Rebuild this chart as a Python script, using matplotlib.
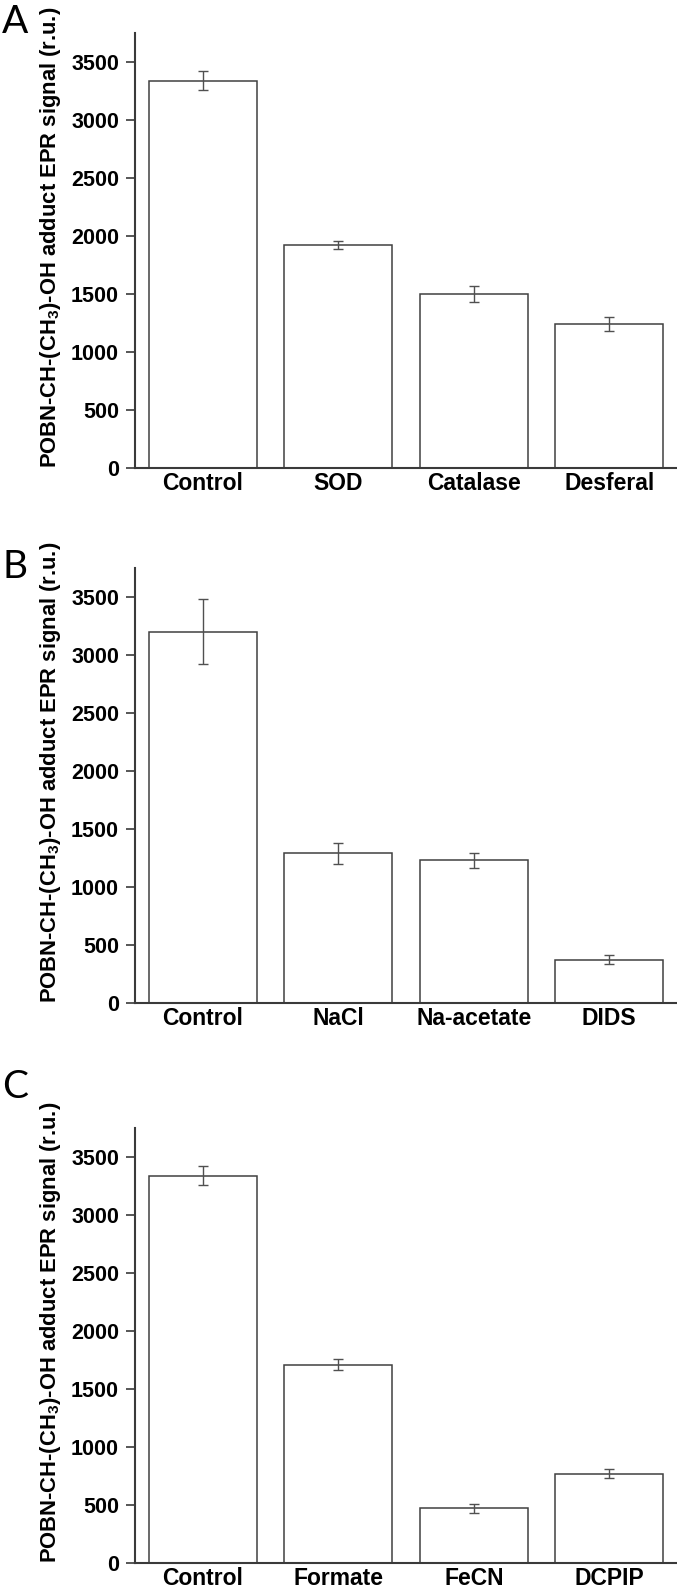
import matplotlib
matplotlib.use("Agg")
import matplotlib.pyplot as plt
import numpy as np

plt.rcParams['font.family'] = ['Liberation Sans', 'DejaVu Sans']
plt.rcParams['mathtext.fontset'] = 'custom'
plt.rcParams['mathtext.rm'] = 'Liberation Sans:bold'
plt.rcParams['mathtext.it'] = 'Liberation Sans:bold'
plt.rcParams['mathtext.bf'] = 'Liberation Sans:bold'
plt.rcParams['mathtext.default'] = 'rm'

# Panel A
cats_a = ["Control", "SOD", "Catalase", "Desferal"]
vals_a = [3340, 1925, 1500, 1240]
errs_a = [85, 35, 68, 58]
# Panel B
cats_b = ["Control", "NaCl", "Na-acetate", "DIDS"]
vals_b = [3200, 1290, 1230, 375]
errs_b = [280, 90, 65, 35]
# Panel C
cats_c = ["Control", "Formate", "FeCN", "DCPIP"]
vals_c = [3340, 1710, 470, 770]
errs_c = [85, 50, 36, 37]

panel_letters = ["A", "B", "C"]
yticks = [0, 500, 1000, 1500, 2000, 2500, 3000, 3500]
ylabel = "POBN-CH-(CH$_3$)-OH adduct EPR signal (r.u.)"

W, H = 677, 1588
fig = plt.figure(figsize=(W / 100, H / 100), dpi=100)
renderer = fig.canvas.get_renderer()

axes_px = [(33, 468), (568, 1003), (1128, 1563)]
letter_px = [33, 578, 1098]
left_px = 135
label_len_px = 462

edge = "#3a3a3a"
data = [(cats_a, vals_a, errs_a), (cats_b, vals_b, errs_b), (cats_c, vals_c, errs_c)]

for (top, bot), (cats, vals, errs), letter, ly in zip(axes_px, data, panel_letters, letter_px):
    ax = fig.add_axes([left_px / W, (H - bot) / H, (W - left_px) / W, (bot - top) / H])
    x = np.arange(len(cats))
    ax.bar(x, vals, width=0.8, color="white", edgecolor="#404040", linewidth=1.1, zorder=2)
    ax.errorbar(x, vals, yerr=errs, fmt="none", ecolor="#505050", elinewidth=1.0,
                capsize=3.5, capthick=1.0, zorder=3)
    ax.set_xlim(-0.5, 3.5)
    ax.set_ylim(0, 3750)
    ax.set_yticks(yticks)
    ax.set_yticklabels([str(t) for t in yticks], fontsize=15.5, fontweight="bold")
    ax.set_xticks(x)
    ax.set_xticklabels(cats, fontsize=16.5, fontweight="bold")
    ax.tick_params(axis="x", length=0, pad=3)
    ax.tick_params(axis="y", length=6.5, width=1.2, color=edge, pad=5)
    for s in ["top", "right"]:
        ax.spines[s].set_visible(False)
    for s in ["left", "bottom"]:
        ax.spines[s].set_color(edge)
        ax.spines[s].set_linewidth(1.5)
    t = ax.text(-0.155, 0.0, ylabel, transform=ax.transAxes, rotation=90,
                ha="center", va="bottom", fontsize=16, fontweight="bold")
    ext = t.get_window_extent(renderer=renderer)
    t.set_fontsize(16 * label_len_px / ext.height)
    fig.text(2 / W, 1 - ly / H, letter, fontsize=28, family="Lato",
             ha="left", va="baseline")

fig.savefig("out.png", dpi=100)
